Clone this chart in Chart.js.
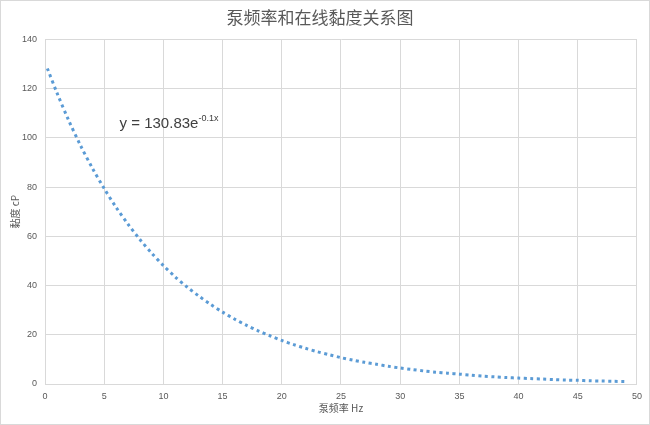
<!DOCTYPE html>
<html>
<head>
<meta charset="utf-8">
<script src="https://cdn.jsdelivr.net/npm/chart.js@4"></script>
<style>
  html, body { margin: 0; padding: 0; background: #fff; }
  #wrap { width: 648px; height: 423px; border: 1px solid #d9d9d9; }
</style>
</head>
<body>
<div id="wrap"><canvas id="chart" width="648" height="423"></canvas></div>
<script>
// trendline (Hz -> cP)
const freq = [0.2, 1, 2, 3, 4, 5, 6, 7, 8, 9, 10, 11, 12, 13, 14, 15, 16, 17, 18, 19,
  20, 21, 22, 23, 24, 25, 26, 27, 28, 29, 30, 31, 32, 33, 34, 35, 36, 37, 38, 39,
  40, 41, 42, 43, 44, 45, 46, 47, 48, 49];
const viscosity = [128.2, 118.4, 107.1, 96.9, 87.7, 79.4, 71.8, 65.0, 58.8, 53.2,
  48.1, 43.5, 39.4, 35.7, 32.3, 29.2, 26.4, 23.9, 21.6, 19.6,
  17.7, 16.0, 14.5, 13.1, 11.9, 10.7, 9.7, 8.8, 8.0, 7.2,
  6.5, 5.9, 5.3, 4.8, 4.4, 4.0, 3.6, 3.2, 2.9, 2.6,
  2.4, 2.2, 2.0, 1.8, 1.6, 1.5, 1.3, 1.2, 1.1, 1.0];
const xTicks = [0, 5, 10, 15, 20, 25, 30, 35, 40, 45, 50];
const yTicks = [0, 20, 40, 60, 80, 100, 120, 140];
const chartTitle = '泵频率和在线黏度关系图';
const xTitle = '泵频率 Hz';
const yTitle = '黏度 cP';

const points = freq.map((f, i) => ({ x: f, y: viscosity[i] }));

// equation label like Excel's trendline text
const eqLabel = {
  id: 'eqLabel',
  afterDraw(chart) {
    const { ctx, scales } = chart;
    const x = scales.x.getPixelForValue(6.3);
    const y = scales.y.getPixelForValue(106);
    ctx.save();
    ctx.fillStyle = '#404040';
    ctx.textBaseline = 'alphabetic';
    ctx.font = '15px "Liberation Sans", Arial, sans-serif';
    const main = 'y = 130.83e';
    ctx.fillText(main, x, y + 5);
    const w = ctx.measureText(main).width;
    ctx.font = '9px "Liberation Sans", Arial, sans-serif';
    ctx.fillText('-0.1x', x + w, y - 2);
    ctx.restore();
  }
};

new Chart(document.getElementById('chart'), {
  type: 'line',
  data: {
    datasets: [{
      data: points,
      borderColor: '#5b9bd5',
      borderWidth: 3,
      borderDash: [3, 3.5],
      pointRadius: 0,
      tension: 0.3,
      fill: false
    }]
  },
  options: {
    responsive: false,
    animation: false,
    layout: { padding: { left: 0, right: 10, top: 0, bottom: 0 } },
    plugins: {
      legend: { display: false },
      tooltip: { enabled: false },
      title: {
        display: true,
        text: chartTitle,
        color: '#595959',
        font: { size: 17, weight: 'normal', family: '"Noto Sans CJK SC", sans-serif' },
        padding: { top: 6, bottom: 12 }
      }
    },
    scales: {
      x: {
        type: 'linear',
        min: 0,
        max: 50,
        afterBuildTicks(axis) { axis.ticks = xTicks.map(v => ({ value: v })); },
        afterFit(axis) { axis.height = 40; },
        grid: { color: '#d9d9d9', drawTicks: false },
        border: { color: '#d9d9d9' },
        ticks: { color: '#595959', font: { size: 9 }, padding: 7 },
        title: {
          display: true,
          text: xTitle,
          color: '#595959',
          font: { size: 10, family: '"Noto Sans CJK SC", sans-serif' },
          padding: { top: 0, bottom: 10 }
        }
      },
      y: {
        min: 0,
        max: 140,
        afterBuildTicks(axis) { axis.ticks = yTicks.map(v => ({ value: v })); },
        afterFit(axis) { axis.width = 44; },
        grid: { color: '#d9d9d9', drawTicks: false },
        border: { color: '#d9d9d9' },
        ticks: { color: '#595959', font: { size: 9 }, padding: 8 },
        title: {
          display: true,
          text: yTitle,
          color: '#595959',
          font: { size: 10, family: '"Noto Sans CJK SC", sans-serif' },
          padding: { top: 8, bottom: 3 }
        }
      }
    }
  },
  plugins: [eqLabel]
});
</script>
</body>
</html>
